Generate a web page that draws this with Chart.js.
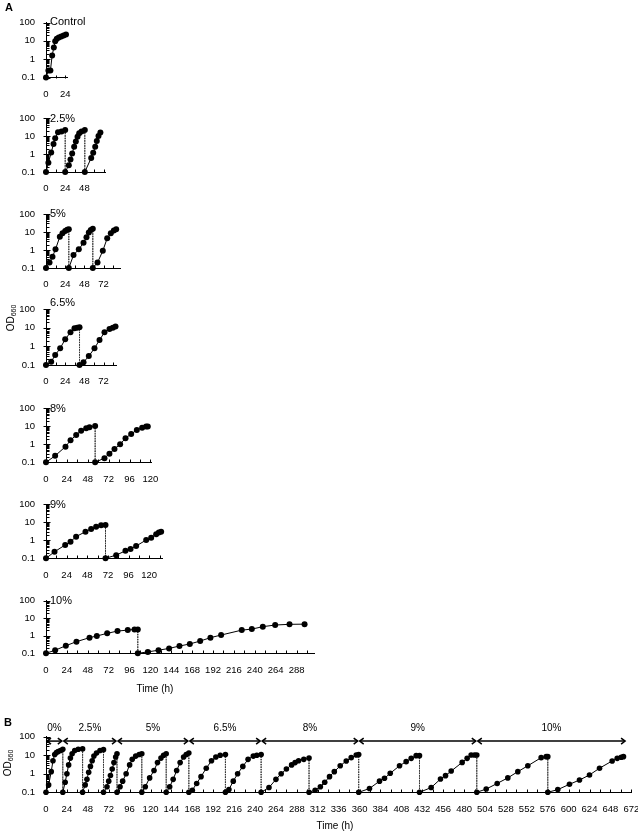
<!DOCTYPE html>
<html><head><meta charset="utf-8">
<script src="https://cdn.jsdelivr.net/npm/chart.js@4/dist/chart.umd.min.js"></script>
<style>
html,body{margin:0;padding:0;background:#fff;overflow:hidden;width:638px;height:832px;}
body{position:relative;font-family:"Liberation Sans",Arial,sans-serif;color:#000;}
canvas{position:absolute;left:0;}
.t{position:absolute;font-size:10px;line-height:11px;white-space:nowrap;transform:translateY(-50%);}
.pt{font-size:11px;}
.c{transform:translate(-50%,-50%);}
.od{position:absolute;font-size:10px;line-height:11px;white-space:nowrap;transform:translate(-50%,-50%) rotate(-90deg);}
.od sub{font-size:7px;vertical-align:-2px;}
.lt{position:absolute;font-size:11px;font-weight:bold;line-height:11px;transform:translateY(-50%);}
</style></head><body>
<script>
// ---------- DATA (time in h, OD660); a repeated time = transfer (peak then fresh 0.1) ----------
const ctrlTime = [0, 3, 5.5, 7.7, 9.8, 11.5, 13.5, 16, 19, 22, 25];
const ctrlOD   = [0.1, 0.24, 0.24, 1.6, 4.3, 9.6, 12.9, 15.3, 17.3, 19.5, 22];
const ctrlTicks = [0, 24];

const p25Time = [0, 3, 6.5, 9.4, 11.5, 15, 19.4, 24, 24, 28.5, 30.6, 32.7, 35.2, 37.3, 39.4, 41.5, 44.4, 48.5, 48.5, 56.5, 59, 61.5, 63.5, 65.6, 68];
const p25OD   = [0.1, 0.33, 1.2, 3.6, 7.4, 16, 17.7, 21.7, 0.1, 0.24, 0.49, 1.07, 2.5, 4.9, 9.2, 14.2, 17.7, 21.7, 0.1, 0.6, 1.17, 2.5, 5.3, 10, 15.6];
const p25Ticks = [0, 24, 48];

const p5Time = [0, 4.4, 8.1, 11.9, 17.3, 20.6, 24, 26.5, 28.5, 28.5, 34.4, 41, 46.9, 50.6, 53.5, 56, 58.5, 58.5, 64.4, 71, 76.5, 81, 84.8, 87.7];
const p5OD   = [0.1, 0.2, 0.42, 1.1, 5.5, 8.5, 11.5, 13.5, 14.4, 0.1, 0.52, 1.1, 2.5, 5.1, 9.3, 13.1, 15, 0.1, 0.2, 0.9, 4.5, 8.5, 12, 14.4];
const p5Ticks = [0, 24, 48, 72];

const p65Time = [0, 6.5, 11.5, 17.7, 24, 30.6, 35.6, 39, 41.9, 41.9, 46.9, 53.5, 60.6, 66.9, 73.1, 79.4, 83.5, 86.9];
const p65OD   = [0.1, 0.15, 0.34, 0.78, 2.4, 5.6, 9.2, 10, 10.5, 0.1, 0.14, 0.3, 0.78, 2.2, 5.6, 8.5, 10, 11.4];
const p65Ticks = [0, 24, 48, 72];

const p8Time = [0, 10.5, 22.4, 28.2, 34.7, 40.4, 46.2, 50, 56.5, 56.5, 67.2, 72.9, 78.7, 85.2, 91.4, 97.9, 104.4, 110.5, 115.1, 117];
const p8OD   = [0.1, 0.23, 0.74, 1.66, 3.3, 5.7, 7.8, 8.8, 10.4, 0.1, 0.17, 0.3, 0.55, 1, 2.2, 3.7, 6.3, 8.4, 9.6, 9.6];
const p8Ticks = [0, 24, 48, 72, 96, 120];

const p9Time = [0, 9.9, 22.3, 28.5, 35, 45.9, 52.5, 58.3, 64.1, 69.2, 69.2, 81.6, 92.4, 98.3, 104.8, 116.5, 122.3, 128.1, 131.2, 133.9];
const p9OD   = [0.1, 0.23, 0.55, 0.84, 1.6, 3, 4.3, 5.7, 6.8, 7.1, 0.1, 0.15, 0.26, 0.33, 0.48, 1.04, 1.4, 2.2, 2.7, 3];
const p9Ticks = [0, 24, 48, 72, 96, 120];

const p10Time = [0, 10.5, 22.8, 35, 50, 58.4, 70.3, 82.2, 94, 101.7, 105.5, 105.5, 117, 129.3, 141.5, 153.4, 165.3, 177.2, 189, 201.3, 225, 236.6, 249.2, 263.4, 279.9, 297.2];
const p10OD   = [0.1, 0.15, 0.27, 0.46, 0.78, 0.97, 1.37, 1.86, 2.1, 2.3, 2.3, 0.1, 0.12, 0.15, 0.19, 0.26, 0.34, 0.5, 0.78, 1.1, 2.1, 2.4, 3.3, 4.1, 4.5, 4.6];
const p10Ticks = [0, 24, 48, 72, 96, 120, 144, 168, 192, 216, 240, 264, 288];

const serialTime = [0, 3, 6, 8, 10, 12, 14, 16.6, 19.3,
  19.3, 22, 24, 26, 28, 30, 33, 37, 42,
  42, 45, 47, 49, 51, 53, 55, 58, 62, 66,
  66, 70, 72, 74, 76, 78, 80, 81.5,
  81.5, 85, 88, 92, 96, 99, 103, 107, 110,
  110, 114, 119, 124, 128, 132, 135, 138,
  138, 142, 146, 150, 154, 158, 161, 164,
  164, 168, 173, 178, 184, 190, 195, 200, 206,
  206, 210, 215, 220, 226, 232, 238, 242, 247,
  247, 256, 264, 270, 276, 282, 286, 290, 296, 302,
  302, 309, 315, 320, 325.5, 331, 337.8, 344.7, 350.4, 356.2, 359,
  359, 371.4, 382.9, 388.6, 395.2, 405.9, 413.5, 419.3, 425, 428.8,
  428.8, 442.2, 452.9, 458.7, 465.2, 477.8, 483.5, 488.1, 492, 494.6,
  494.6, 505.4, 518, 530.2, 541.7, 553.2, 568.5, 574.3, 576.1,
  576.1, 587.6, 601, 612.5, 624, 635.5, 650, 655.8, 660.4, 663];
const serialOD = [0.1, 0.25, 1.3, 5, 11, 14, 16, 18, 21,
  0.1, 0.35, 1, 3, 7, 12, 18, 21, 22,
  0.1, 0.25, 0.5, 1.2, 2.5, 5, 9, 13, 18, 20,
  0.1, 0.2, 0.4, 0.8, 1.8, 4, 8, 12,
  0.1, 0.2, 0.4, 1, 3, 6, 9, 11, 12,
  0.1, 0.2, 0.6, 1.5, 4, 7, 10, 12,
  0.1, 0.2, 0.5, 1.5, 4, 8, 11, 13,
  0.1, 0.13, 0.3, 0.7, 2, 5, 8, 10, 11,
  0.1, 0.14, 0.4, 1, 2.5, 6, 9, 10, 11,
  0.1, 0.18, 0.5, 1, 1.8, 3, 4, 5, 6, 7,
  0.1, 0.13, 0.2, 0.35, 0.7, 1.3, 2.7, 4.9, 7.4, 10.2, 11,
  0.1, 0.16, 0.4, 0.57, 1.06, 2.7, 4.5, 6.8, 9.5, 9.5,
  0.1, 0.18, 0.52, 0.79, 1.4, 4.1, 6.8, 10.3, 10.3, 10.3,
  0.1, 0.15, 0.3, 0.6, 1.3, 2.7, 7.4, 8.4, 8.4,
  0.1, 0.14, 0.27, 0.46, 0.86, 2, 4.9, 6.8, 7.8, 8.4];
const serialTicks = [0, 24, 48, 72, 96, 120, 144, 168, 192, 216, 240, 264, 288, 312, 336, 360, 384, 408, 432, 456, 480, 504, 528, 552, 576, 600, 624, 648, 672];

const phaseLabels = ['0%', '2.5%', '5%', '6.5%', '8%', '9%', '10%'];
const phaseStart  = [0, 19.3, 81.5, 164, 247, 359, 494.6];
const phaseEnd    = 666;
const arrowOD = 58;      // level of the phase arrows
const arrowLabelOD = 290; // level of the phase labels

const panelTitles = ['Control', '2.5%', '5%', '6.5%', '8%', '9%', '10%'];

// ---------- LAYOUT ----------
const panels = [
  {time: ctrlTime, od: ctrlOD, ticks: ctrlTicks, max: 27,  pph: 0.8,   top: 22.5,  bot: 77.5,  title: panelTitles[0], titleY: 21,    r: 3},
  {time: p25Time,  od: p25OD,  ticks: p25Ticks,  max: 74,  pph: 0.8,   top: 118,   bot: 172,   title: panelTitles[1], titleY: 117.5, r: 3},
  {time: p5Time,   od: p5OD,   ticks: p5Ticks,   max: 93,  pph: 0.8,   top: 214,   bot: 268,   title: panelTitles[2], titleY: 213.3, r: 3},
  {time: p65Time,  od: p65OD,  ticks: p65Ticks,  max: 88.5,pph: 0.8,   top: 309,   bot: 365,   title: panelTitles[3], titleY: 301.7, r: 3},
  {time: p8Time,   od: p8OD,   ticks: p8Ticks,   max: 121, pph: 0.87,  top: 408.3, bot: 462.3, title: panelTitles[4], titleY: 408.3, r: 3},
  {time: p9Time,   od: p9OD,   ticks: p9Ticks,   max: 136, pph: 0.86,  top: 504.3, bot: 558.3, title: panelTitles[5], titleY: 504.3, r: 3},
  {time: p10Time,  od: p10OD,  ticks: p10Ticks,  max: 309, pph: 0.87,  top: 600.7, bot: 653.3, title: panelTitles[6], titleY: 600,   r: 3},
  {time: serialTime, od: serialOD, ticks: serialTicks, max: 672, pph: 0.871, top: 736.7, bot: 792.3, title: null, r: 2.8, serial: true}
];

const AXIS_LEFT = 46;
const CANVAS_W = 700;
const FONT = '"Liberation Sans", Arial, sans-serif';
const TICK_SIZE = 9.5;

const marksPlugin = {
  id: 'marks',
  afterDraw(chart) {
    const {ctx, chartArea: a, scales: {x, y}} = chart;
    ctx.save();
    ctx.strokeStyle = '#000';
    ctx.lineWidth = 1;
    const line = (x1, y1, x2, y2) => { ctx.beginPath(); ctx.moveTo(x1, y1); ctx.lineTo(x2, y2); ctx.stroke(); };
    const lx = Math.round(a.left) + 0.5;
    for (const d of [0.1, 1, 10]) {
      for (let k = 2; k <= 9; k++) {
        const py = Math.round(y.getPixelForValue(k * d)) + 0.5;
        line(lx, py, lx + 3, py);
      }
    }
    for (const d of [0.1, 1, 10, 100]) {
      const py = Math.round(y.getPixelForValue(d)) + 0.5;
      line(lx - 3, py, lx + 4, py);
    }
    const by = Math.round(a.bottom) + 0.5;
    for (let t = 0; t <= x.max + 0.01; t += 12) {
      const px = Math.round(x.getPixelForValue(t)) + 0.5;
      line(px, by, px, by - 3);
    }
    if (chart.options.plugins.marks && chart.options.plugins.marks.serial) {
      const ay = y.getPixelForValue(arrowOD);
      const ly = y.getPixelForValue(arrowLabelOD);
      ctx.lineWidth = 1.5;
      ctx.fillStyle = '#000';
      ctx.font = '10px ' + FONT;
      ctx.textAlign = 'center';
      ctx.textBaseline = 'middle';
      for (let i = 0; i < phaseStart.length; i++) {
        const x1 = x.getPixelForValue(phaseStart[i]);
        const x2 = x.getPixelForValue(i + 1 < phaseStart.length ? phaseStart[i + 1] : phaseEnd);
        const g = 1;
        line(x1 + g, ay, x2 - g, ay);
        ctx.beginPath();
        ctx.moveTo(x1 + g + 4, ay - 3); ctx.lineTo(x1 + g, ay); ctx.lineTo(x1 + g + 4, ay + 3);
        ctx.moveTo(x2 - g - 4, ay - 3); ctx.lineTo(x2 - g, ay); ctx.lineTo(x2 - g - 4, ay + 3);
        ctx.stroke();
        ctx.fillText(phaseLabels[i], (x1 + x2) / 2, ly);
      }
    }
    ctx.restore();
  }
};

panels.forEach((p, idx) => {
  const cTop = Math.floor(p.top) - (p.serial ? 26 : 20);
  const padTop = p.top - cTop;
  const xAxisH = 30;
  const h = padTop + (p.bot - p.top) + xAxisH;
  const cv = document.createElement('canvas');
  cv.width = CANVAS_W; cv.height = Math.ceil(h);
  cv.style.top = cTop + 'px';
  cv.style.width = CANVAS_W + 'px'; cv.style.height = Math.ceil(h) + 'px';
  document.body.appendChild(cv);
  const right = AXIS_LEFT + p.pph * p.max;
  const pts = p.time.map((t, i) => ({x: t, y: p.od[i]}));
  new Chart(cv, {
    type: 'line',
    data: {datasets: [{
      data: pts,
      borderColor: '#000', borderWidth: 1,
      pointBackgroundColor: '#000', pointBorderWidth: 0, pointRadius: p.r,
      tension: 0, clip: false,
      segment: {
        borderDash: c => (c.p0.parsed.x === c.p1.parsed.x ? [1, 1.5] : undefined),
        borderColor: c => (c.p0.parsed.x === c.p1.parsed.x ? '#333' : undefined)
      }
    }]},
    options: {
      responsive: false, animation: false, devicePixelRatio: 1,
      layout: {padding: {left: 0, top: padTop, right: CANVAS_W - right, bottom: Math.ceil(h) - h}},
      plugins: {legend: {display: false}, tooltip: {enabled: false}, marks: {serial: !!p.serial}},
      scales: {
        x: {
          type: 'linear', min: 0, max: p.max,
          afterFit: s => { s.height = xAxisH; },
          afterBuildTicks: s => { s.ticks = p.ticks.map(v => ({value: v})); },
          grid: {display: false, drawTicks: false},
          border: {display: true, color: '#000', width: 1},
          ticks: {autoSkip: false, maxRotation: 0, minRotation: 0, padding: 11, color: '#000',
                  font: {family: FONT, size: TICK_SIZE}, callback: v => String(v)}
        },
        y: {
          type: 'logarithmic', min: 0.1, max: 100,
          afterFit: s => { s.width = AXIS_LEFT; },
          afterBuildTicks: s => { s.ticks = [0.1, 1, 10, 100].map(v => ({value: v})); },
          grid: {display: false, drawTicks: false},
          border: {display: true, color: '#000', width: 1},
          ticks: {padding: 11, color: '#000', font: {family: FONT, size: TICK_SIZE},
                  callback: v => (v === 0.1 ? '0.1' : String(v))}
        }
      }
    },
    plugins: [marksPlugin]
  });
  if (p.title) {
    const d = document.createElement('div');
    d.className = 't pt';
    d.style.left = '50px'; d.style.top = p.titleY + 'px';
    d.textContent = p.title;
    document.body.appendChild(d);
  }
});

function addHTML(html) { document.body.insertAdjacentHTML('beforeend', html); }
addHTML('<div class="lt" style="left:5px;top:7px">A</div>');
addHTML('<div class="lt" style="left:4px;top:722px">B</div>');
addHTML('<div class="od" style="left:12px;top:318px">OD<sub>660</sub></div>');
addHTML('<div class="od" style="left:9px;top:763px">OD<sub>660</sub></div>');
addHTML('<div class="t c" style="left:155px;top:688px">Time (h)</div>');
addHTML('<div class="t c" style="left:335px;top:825px">Time (h)</div>');
</script>
</body></html>
